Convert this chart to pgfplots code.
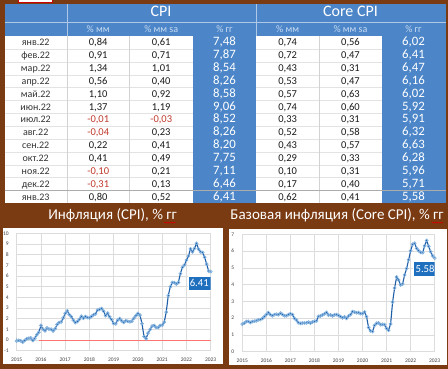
\documentclass[border=0pt]{standalone}
\usepackage{pgfplots}
\pgfplotsset{compat=1.18}
\usepackage{pgfplotstable}
\usepackage{fontspec}
\setmainfont{Carlito}
\usetikzlibrary{decorations.pathmorphing}

\definecolor{brownbg}{HTML}{7A3A12}
\definecolor{tblue}{HTML}{4C86C8}
\definecolor{subtxt}{HTML}{C9DCF2}
\definecolor{negred}{HTML}{C0392B}
\definecolor{datetxt}{HTML}{333333}
\definecolor{celltxt}{HTML}{1A1A1A}
\definecolor{linecol}{HTML}{1F5FA8}
\definecolor{markcol}{HTML}{7FB0DE}
\definecolor{boxblue}{HTML}{1F6FBF}
\definecolor{gridc}{HTML}{DCDCDC}

% month index m: 0 = Jan 2015
\pgfplotstableread{
m cpi core
-1 0.76 1.61
0 -0.09 1.64
1 -0.03 1.70
2 -0.07 1.80
3 -0.20 1.81
4 -0.04 1.74
5 0.12 1.80
6 0.17 1.82
7 0.20 1.84
8 -0.04 1.90
9 0.17 1.91
10 0.50 1.98
11 0.73 2.09
12 1.37 2.21
13 1.02 2.33
14 0.85 2.21
15 1.13 2.14
16 1.02 2.21
17 1.01 2.24
18 0.84 2.20
19 1.06 2.30
20 1.46 2.22
21 1.64 2.14
22 1.69 2.14
23 2.07 2.21
24 2.50 2.26
25 2.74 2.21
26 2.38 1.99
27 2.20 1.89
28 1.87 1.73
29 1.63 1.69
30 1.73 1.71
31 1.94 1.71
32 2.23 1.72
33 2.04 1.76
34 2.20 1.70
35 2.11 1.77
36 2.07 1.81
37 2.21 1.84
38 2.36 2.11
39 2.46 2.13
40 2.80 2.19
41 2.87 2.26
42 2.95 2.35
43 2.70 2.18
44 2.28 2.19
45 2.52 2.13
46 2.18 2.20
47 1.91 2.21
48 1.55 2.16
49 1.52 2.09
50 1.86 2.02
51 2.00 2.07
52 1.79 1.99
53 1.65 2.13
54 1.81 2.21
55 1.75 2.39
56 1.71 2.36
57 1.76 2.32
58 2.05 2.33
59 2.29 2.27
60 2.49 2.27
61 2.33 2.37
62 1.54 2.09
63 0.33 1.44
64 0.12 1.24
65 0.65 1.20
66 0.99 1.57
67 1.31 1.70
68 1.37 1.72
69 1.18 1.61
70 1.17 1.63
71 1.36 1.61
72 1.40 1.39
73 1.68 1.28
74 2.62 1.65
75 4.16 2.96
76 4.99 3.80
77 5.39 4.45
78 5.37 4.27
79 5.25 3.98
80 5.39 4.04
81 6.22 4.58
82 6.81 4.96
83 7.04 5.48
84 7.48 6.02
85 7.87 6.41
86 8.54 6.47
87 8.26 6.16
88 8.58 6.02
89 9.06 5.92
90 8.52 5.91
91 8.26 6.32
92 8.20 6.63
93 7.75 6.28
94 7.11 5.96
95 6.46 5.71
96 6.41 5.58
}\usdata

\newcommand{\N}[1]{\textcolor{negred}{#1}}
\newcommand{\trow}[8]{%
  \pgfmathsetmacro{\yy}{326.3-12.85*#1}
  \node[datef] at (35.7,\yy) {#2};
  \node[cellf] at (98.2,\yy) {#3};
  \node[cellf] at (161.2,\yy) {#4};
  \node[bluef] at (224.5,\yy) {#5};
  \node[cellf] at (287.7,\yy) {#6};
  \node[cellf] at (350.5,\yy) {#7};
  \node[bluef] at (413.5,\yy) {#8};
}

\pgfplotsset{
  minichart/.style={
    scale only axis,
    anchor=south west,
    xmin=2015, xmax=2023,
    xtick={2015,2016,...,2023},
    grid=major,
    grid style={gridc, line width=0.45pt},
    axis line style={draw=none},
    major tick length=0pt,
    /pgf/number format/assume math mode=true,
    /pgf/number format/1000 sep={},
    ticklabel style={font=\fontsize{5.5}{6}\selectfont, text=black!75},
    xticklabel style={yshift=-3.5pt},
    yticklabel style={xshift=-4.5pt},
    clip=true,
  },
  serie/.style={
    linecol, line width=1.1pt,
    mark=o, mark size=1.5pt,
    mark options={draw=markcol, fill=white, line width=0.7pt, solid},
  },
}

\begin{document}
\begin{tikzpicture}[x=1pt,y=1pt,
  datef/.style={text=datetxt, font=\fontsize{10}{10}\selectfont, text height=0.64em, text depth=0pt, inner sep=0pt},
  cellf/.style={text=celltxt, font=\fontsize{10.5}{10.5}\selectfont, text height=0.64em, text depth=0pt, inner sep=0pt},
  bluef/.style={text=white, font=\fontsize{12.8}{12.8}\selectfont, text height=0.64em, text depth=0pt, inner sep=0pt},
  subf/.style={text=subtxt, font=\fontsize{10}{10}\selectfont, text height=0.64em, text depth=0pt, inner sep=0pt},
  headf/.style={text=white, font=\fontsize{16}{16}\selectfont, text height=0.64em, text depth=0pt, inner sep=0pt},
  titlef/.style={text=white, font=\fontsize{15}{15}\selectfont, text height=0.64em, text depth=0pt, inner sep=0pt},
]
% background
\fill[brownbg] (0,0) rectangle (448,369);
\filldraw[fill=white, draw=red!80!black, line width=0.6pt] (18,366.8) rectangle (52.5,370);

% ---------------- table ----------------
\fill[white] (4.5,165.65) rectangle (445.5,332.7);
\fill[tblue] (4.5,332.7) rectangle (445.5,364.5);
\fill[tblue] (193,165.65) rectangle (256,332.7);
\fill[tblue] (381.5,165.65) rectangle (445.5,332.7);
\foreach \i in {1,...,12}{
  \pgfmathsetmacro{\ly}{332.7-12.85*\i}
  \draw[gray!22, line width=0.4pt] (4.5,\ly) -- (193,\ly);
  \draw[gray!22, line width=0.4pt] (256,\ly) -- (381.5,\ly);
}
\foreach \vx in {67,129.5,319.5}{
  \draw[gray!35, line width=0.5pt] (\vx,165.65) -- (\vx,332.7);
}
\draw[gray!65, line width=1pt] (4.5,178.5) -- (445.5,178.5);
\draw[white!55!tblue, line width=0.6pt] (4.5,347) -- (445.5,347);
\draw[white!55!tblue, line width=0.7pt] (67,332.7) -- (67,364.5);
\draw[white!55!tblue, line width=0.7pt] (256,332.7) -- (256,364.5);

\node[headf] at (161,356) {CPI};
\node[headf] at (350.5,356) {Core CPI};
\node[subf] at (98.2,339.5) {\% мм};
\node[subf] at (161.2,339.5) {\% мм sa};
\node[subf] at (224.5,339.5) {\% гг};
\node[subf] at (287.7,339.5) {\% мм};
\node[subf] at (350.5,339.5) {\% мм sa};
\node[subf] at (413.5,339.5) {\% гг};

\trow{0}{янв.22}{0,84}{0,61}{7,48}{0,74}{0,56}{6,02}
\trow{1}{фев.22}{0,91}{0,71}{7,87}{0,72}{0,47}{6,41}
\trow{2}{мар.22}{1,34}{1,01}{8,54}{0,43}{0,31}{6,47}
\trow{3}{апр.22}{0,56}{0,40}{8,26}{0,53}{0,47}{6,16}
\trow{4}{май.22}{1,10}{0,92}{8,58}{0,57}{0,63}{6,02}
\trow{5}{июн.22}{1,37}{1,19}{9,06}{0,74}{0,60}{5,92}
\trow{6}{июл.22}{\N{-0,01}}{\N{-0,03}}{8,52}{0,33}{0,31}{5,91}
\trow{7}{авг.22}{\N{-0,04}}{0,23}{8,26}{0,52}{0,58}{6,32}
\trow{8}{сен.22}{0,22}{0,41}{8,20}{0,43}{0,57}{6,63}
\trow{9}{окт.22}{0,41}{0,49}{7,75}{0,29}{0,33}{6,28}
\trow{10}{ноя.22}{\N{-0,10}}{0,21}{7,11}{0,10}{0,31}{5,96}
\trow{11}{дек.22}{\N{-0,31}}{0,13}{6,46}{0,17}{0,40}{5,71}
\trow{12}{янв.23}{0,80}{0,52}{6,41}{0,62}{0,41}{5,58}

% ---------------- titles ----------------
\node[titlef] at (112.5,152.3) {Инфляция (CPI), \% гг};
\node[titlef] at (337,152.3) {Базовая инфляция (Core CPI), \% гг};
\draw[red!85!black, line width=0.5pt, decorate, decoration={snake, amplitude=0.45pt, segment length=2pt}] (164,146.4) -- (175.5,146.4);
\draw[red!85!black, line width=0.5pt, decorate, decoration={snake, amplitude=0.45pt, segment length=2pt}] (432,146.4) -- (443,146.4);

% ---------------- chart boxes ----------------
\fill[white] (3,5) rectangle (223,141);
\fill[white] (229,4) rectangle (446.5,140);

\begin{axis}[minichart, at={(16.7pt,18.3pt)}, width=194pt, height=117.4pt,
  ymin=-1, ymax=10, ytick={-1,0,...,10}]
  \addplot[red!55, line width=0.45pt] coordinates {(2015.9,0) (2023,0)};
  \addplot[serie] table[x expr=2015+\thisrow{m}/12, y=cpi] {\usdata};
  \node[fill=boxblue, draw=white, line width=0.4pt, text=white, font=\fontsize{10.7}{11}\selectfont,
        inner xsep=2pt, minimum height=13.4pt] at (axis cs:2022.53,5.34) {6.41};
\end{axis}

\begin{axis}[minichart, at={(242.3pt,17.3pt)}, width=192.4pt, height=117.4pt,
  ymin=0, ymax=7, ytick={0,1,...,7}]
  \addplot[serie] table[x expr=2015+\thisrow{m}/12, y=core] {\usdata};
  \node[fill=boxblue, draw=white, line width=0.4pt, text=white, font=\fontsize{10.7}{11}\selectfont,
        inner xsep=2pt, minimum height=13.4pt] at (axis cs:2022.6,4.95) {5.58};
\end{axis}

\pgfresetboundingbox
\useasboundingbox (0,0) rectangle (448,369);
\end{tikzpicture}
\end{document}
